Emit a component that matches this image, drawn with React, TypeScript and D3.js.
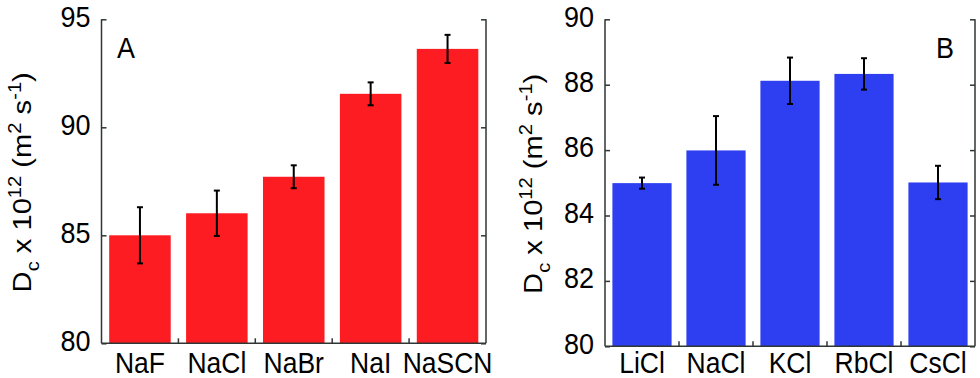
import React, { useEffect, useRef } from 'react';
import * as d3 from 'd3';

const WIDTH = 980;
const HEIGHT = 378;

// panel A: sodium salts
const saltsA = ['NaF', 'NaCl', 'NaBr', 'NaI', 'NaSCN'];
const valuesA = [85.0, 86.02, 87.71, 91.55, 93.63];
const errorsA = [1.3, 1.05, 0.53, 0.53, 0.65];
const ticksA = [80, 85, 90, 95];

// panel B: chlorides
const saltsB = ['LiCl', 'NaCl', 'KCl', 'RbCl', 'CsCl'];
const valuesB = [84.99, 85.99, 88.12, 88.33, 85.01];
const errorsB = [0.17, 1.05, 0.71, 0.48, 0.51];
const ticksB = [80, 82, 84, 86, 88, 90];

const FONT = 'Liberation Sans, Arial, Helvetica, sans-serif';
const AXIS_COLOR = '#2f3634';
// the source figure was stretched a bit vertically
const STRETCH = 1.12;

type Panel = {
  cats: string[];
  values: number[];
  errors: number[];
  ticks: number[];
  left: number;
  right: number;
  top: number;
  bottom: number;
  color: string;
  letter: string;
  letterX: number;
  labelX: number;
};

const panels: Panel[] = [
  {
    cats: saltsA, values: valuesA, errors: errorsA, ticks: ticksA,
    left: 101.5, right: 486, top: 19.3, bottom: 343.3,
    color: '#fd1c22', letter: 'A', letterX: 117, labelX: 31,
  },
  {
    cats: saltsB, values: valuesB, errors: errorsB, ticks: ticksB,
    left: 605, right: 975, top: 19.3, bottom: 346.3,
    color: '#2d3ff0', letter: 'B', letterX: 936, labelX: 542,
  },
];

function drawPanel(svg: d3.Selection<SVGSVGElement, unknown, null, undefined>, p: Panel) {
  const x = d3.scaleBand<string>()
    .domain(p.cats)
    .range([p.left, p.right])
    .paddingInner(0.2)
    .paddingOuter(0.1);

  const y = d3.scaleLinear()
    .domain([p.ticks[0], p.ticks[p.ticks.length - 1]])
    .range([p.bottom, p.top]);

  const g = svg.append('g');

  // bars
  g.selectAll('.bar')
    .data(p.cats)
    .enter()
    .append('rect')
    .attr('x', d => x(d)!)
    .attr('width', x.bandwidth())
    .attr('y', (d, i) => y(p.values[i]))
    .attr('height', (d, i) => y(p.ticks[0]) - y(p.values[i]))
    .attr('fill', p.color);

  // error bars
  const err = g.selectAll('.err')
    .data(p.cats)
    .enter()
    .append('g')
    .attr('transform', d => `translate(${x(d)! + x.bandwidth() / 2},0)`)
    .attr('stroke', '#000')
    .attr('stroke-width', 2);

  err.append('line')
    .attr('y1', (d, i) => y(p.values[i] - p.errors[i]))
    .attr('y2', (d, i) => y(p.values[i] + p.errors[i]));

  err.append('line')
    .attr('x1', -3).attr('x2', 3)
    .attr('y1', (d, i) => y(p.values[i] - p.errors[i]))
    .attr('y2', (d, i) => y(p.values[i] - p.errors[i]));

  err.append('line')
    .attr('x1', -3).attr('x2', 3)
    .attr('y1', (d, i) => y(p.values[i] + p.errors[i]))
    .attr('y2', (d, i) => y(p.values[i] + p.errors[i]));

  // left axis, ticks pointing inward
  g.append('g')
    .attr('transform', `translate(${p.left},0)`)
    .call(d3.axisRight(y).tickValues(p.ticks).tickSize(5).tickFormat(() => ''))
    .call(a => a.select('.domain').attr('d', `M0,${p.top}V${p.bottom}`));

  // right axis, ticks pointing inward
  g.append('g')
    .attr('transform', `translate(${p.right},0)`)
    .call(d3.axisLeft(y).tickValues(p.ticks).tickSize(5).tickFormat(() => ''))
    .call(a => a.select('.domain').attr('d', `M0,${p.top}V${p.bottom}`));

  g.selectAll('.domain, .tick line')
    .attr('stroke', AXIS_COLOR)
    .attr('stroke-width', 1.5);

  // tick labels (sit a little above their ticks in the source)
  g.selectAll('.ylab')
    .data(p.ticks)
    .enter()
    .append('text')
    .attr('transform', d => `translate(${p.left - 11},${y(d) - 3.5}) scale(1,${STRETCH})`)
    .attr('dy', '0.36em')
    .attr('text-anchor', 'end')
    .attr('font-family', FONT)
    .attr('font-size', 27)
    .attr('fill', '#000')
    .text(d => d);

  // bottom axis with ticks between categories
  const gap = x.step() - x.bandwidth();
  g.append('line')
    .attr('x1', p.left).attr('x2', p.right)
    .attr('y1', p.bottom).attr('y2', p.bottom)
    .attr('stroke', AXIS_COLOR)
    .attr('stroke-width', 1.5);

  g.selectAll('.sep')
    .data(p.cats.slice(1))
    .enter()
    .append('line')
    .attr('x1', d => x(d)! - gap / 2)
    .attr('x2', d => x(d)! - gap / 2)
    .attr('y1', p.bottom)
    .attr('y2', p.bottom - 5)
    .attr('stroke', AXIS_COLOR)
    .attr('stroke-width', 1.5);

  g.selectAll('.xlab')
    .data(p.cats)
    .enter()
    .append('text')
    .attr('transform', d => `translate(${x(d)! + x.bandwidth() / 2},372.5) scale(1,${STRETCH})`)
    .attr('text-anchor', 'middle')
    .attr('font-family', FONT)
    .attr('font-size', 26.5)
    .attr('fill', '#000')
    .text(d => d);

  // panel letter
  g.append('text')
    .attr('transform', `translate(${p.letterX},57.5) scale(1,${STRETCH})`)
    .attr('font-family', FONT)
    .attr('font-size', 27)
    .attr('fill', '#000')
    .text(p.letter);

  // y axis title
  const title = g.append('text')
    .attr('transform', `translate(${p.labelX},${(p.top + p.bottom) / 2 + 1}) rotate(-90) scale(${STRETCH},1)`)
    .attr('text-anchor', 'middle')
    .attr('font-family', FONT)
    .attr('font-size', 26)
    .attr('fill', '#000');

  title.append('tspan').text('D');
  title.append('tspan').attr('dy', 8).attr('font-size', 18).text('c');
  title.append('tspan').attr('dy', -8).text(' x 10');
  title.append('tspan').attr('dy', -10).attr('font-size', 18).text('12');
  title.append('tspan').attr('dy', 10).text(' (m');
  title.append('tspan').attr('dy', -10).attr('font-size', 18).text('2');
  title.append('tspan').attr('dy', 10).text(' s');
  title.append('tspan').attr('dy', -10).attr('font-size', 18).text('-1');
  title.append('tspan').attr('dy', 10).text(')');
}

export default function App() {
  const ref = useRef<SVGSVGElement>(null);

  useEffect(() => {
    const svg = d3.select(ref.current!);
    svg.selectAll('*').remove();
    panels.forEach(p => drawPanel(svg, p));
  }, []);

  return (
    <svg
      ref={ref}
      width={WIDTH}
      height={HEIGHT}
      style={{ position: 'absolute', left: 0, top: 0, background: '#fff' }}
    />
  );
}
